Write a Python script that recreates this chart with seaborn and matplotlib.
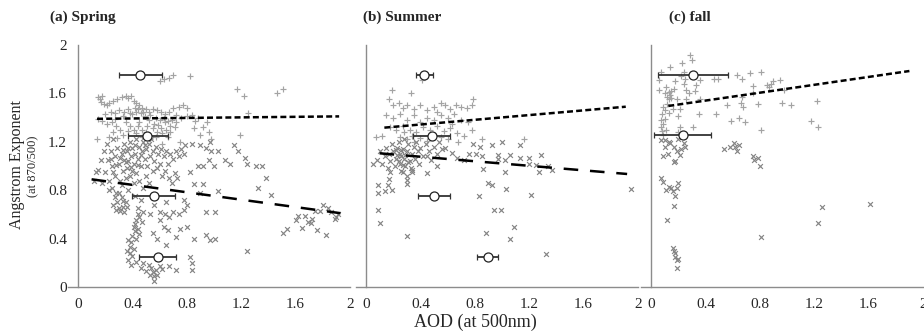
import matplotlib
matplotlib.use("Agg")
import matplotlib.pyplot as plt
import seaborn as sns
import pandas as pd
import numpy as np
from matplotlib.ticker import MultipleLocator

# ---------------- data ----------------
panel_titles = ["(a) Spring", "(b) Summer", "(c) fall"]
x_ticks = [0, 0.4, 0.8, 1.2, 1.6, 2]
x_tick_labels = ["0", "0.4", "0.8", "1.2", "1.6", "2"]
y_ticks = [0, 0.4, 0.8, 1.2, 1.6, 2]
y_tick_labels = ["0", "0.4", "0.8", "1.2", "1.6", "2"]

spring_plus = [
    (0.60, 1.70), (0.63, 1.72), (0.67, 1.73), (0.70, 1.75), (0.82, 1.74), (1.17, 1.64), (1.22, 1.58),
    (1.46, 1.60), (1.51, 1.64), (1.25, 1.44), (1.19, 1.26), (0.98, 1.22), (0.92, 1.32), (0.95, 1.36),
    (0.15, 1.57), (0.16, 1.55), (0.17, 1.53), (0.18, 1.58), (0.19, 1.51), (0.21, 1.50), (0.23, 1.52),
    (0.26, 1.54), (0.29, 1.55), (0.32, 1.57), (0.35, 1.58), (0.37, 1.56), (0.39, 1.58), (0.41, 1.54),
    (0.43, 1.52), (0.45, 1.50), (0.47, 1.48), (0.50, 1.47), (0.52, 1.45), (0.55, 1.47), (0.58, 1.46),
    (0.61, 1.45), (0.64, 1.43), (0.67, 1.45), (0.70, 1.48), (0.74, 1.49), (0.77, 1.50), (0.80, 1.48),
    (0.84, 1.42), (0.88, 1.40), (0.30, 1.46), (0.27, 1.44), (0.24, 1.45), (0.34, 1.45), (0.37, 1.47),
    (0.40, 1.43), (0.43, 1.45), (0.46, 1.44), (0.49, 1.41), (0.53, 1.42), (0.57, 1.40), (0.60, 1.38),
    (0.63, 1.40), (0.66, 1.37), (0.69, 1.38), (0.72, 1.36), (0.76, 1.40), (0.80, 1.41), (0.86, 1.37),
    (0.18, 1.37), (0.15, 1.39), (0.21, 1.35), (0.25, 1.36), (0.28, 1.33), (0.31, 1.30), (0.35, 1.36),
    (0.38, 1.33), (0.41, 1.30), (0.44, 1.33), (0.47, 1.30), (0.51, 1.33), (0.55, 1.31), (0.58, 1.28),
    (0.62, 1.27), (0.65, 1.30), (0.68, 1.28), (0.71, 1.32), (0.26, 1.28), (0.23, 1.24), (0.29, 1.23),
    (0.33, 1.26), (0.14, 1.22), (0.47, 1.24), (0.53, 1.22), (0.57, 1.24), (0.66, 1.24), (0.75, 1.20),
    (0.62, 1.18), (0.90, 1.26), (0.96, 1.28), (0.85, 1.31),
    (0.44, 1.47), (0.48, 1.45), (0.42, 1.48), (0.38, 1.44), (0.33, 1.41), (0.45, 1.36), (0.52, 1.38),
    (0.59, 1.34), (0.64, 1.36), (0.50, 1.28), (0.43, 1.27), (0.37, 1.29), (0.27, 1.39), (0.20, 1.43),
    (0.56, 1.35), (0.61, 1.31), (0.72, 1.42), (0.68, 1.33),
]

spring_cross = [
    (0.12, 0.88), (0.13, 0.95), (0.15, 0.97), (0.17, 1.05), (0.18, 0.86), (0.19, 1.12), (0.20, 0.95),
    (0.21, 1.18), (0.22, 1.05), (0.23, 0.88), (0.24, 1.12), (0.25, 1.00), (0.25, 0.82), (0.26, 1.22),
    (0.27, 1.08), (0.27, 0.92), (0.28, 0.78), (0.29, 1.15), (0.29, 0.70), (0.30, 1.02), (0.30, 0.65),
    (0.31, 0.88), (0.32, 1.10), (0.32, 0.74), (0.33, 0.96), (0.33, 0.66), (0.34, 1.05), (0.34, 1.18),
    (0.35, 0.90), (0.35, 0.70), (0.36, 1.12), (0.36, 0.98), (0.37, 1.04), (0.37, 0.80), (0.38, 1.20),
    (0.38, 0.92), (0.39, 1.08), (0.40, 1.15), (0.40, 0.96), (0.41, 1.02), (0.41, 0.86), (0.42, 1.10),
    (0.42, 0.75), (0.43, 1.22), (0.43, 0.94), (0.44, 1.06), (0.44, 0.65), (0.45, 1.16), (0.45, 0.88),
    (0.46, 1.00), (0.46, 0.72), (0.47, 1.12), (0.48, 1.20), (0.48, 0.82), (0.49, 1.06), (0.50, 1.14),
    (0.50, 0.92), (0.51, 1.00), (0.52, 1.18), (0.52, 0.86), (0.53, 1.08), (0.54, 1.22), (0.55, 0.96),
    (0.55, 1.12), (0.56, 1.04), (0.57, 1.16), (0.58, 0.98), (0.59, 1.10), (0.60, 1.02), (0.61, 1.14),
    (0.62, 0.92), (0.63, 1.08), (0.64, 0.96), (0.65, 1.12), (0.66, 1.02), (0.67, 0.90), (0.68, 1.10),
    (0.69, 0.86), (0.70, 1.06), (0.71, 0.94), (0.72, 1.12), (0.73, 0.90), (0.74, 1.08), (0.76, 1.14),
    (0.78, 1.10), (0.79, 1.17), (0.23, 0.80), (0.26, 0.68), (0.31, 0.63), (0.34, 0.62), (0.28, 0.64),
    (0.31, 1.07), (0.33, 1.13), (0.35, 1.03), (0.37, 1.15), (0.39, 0.99), (0.42, 1.17), (0.44, 1.01),
    (0.46, 1.09), (0.49, 1.17), (0.28, 1.01), (0.26, 0.95), (0.24, 1.06), (0.32, 0.84), (0.30, 0.78),
    (0.27, 0.74), (0.33, 0.71), (0.36, 0.66),
    (0.44, 0.60), (0.43, 0.55), (0.41, 0.50), (0.42, 0.46), (0.44, 0.48), (0.40, 0.42), (0.45, 0.44),
    (0.39, 0.37), (0.37, 0.39), (0.36, 0.30), (0.38, 0.28), (0.40, 0.26), (0.37, 0.22), (0.39, 0.18),
    (0.43, 0.21), (0.41, 0.31), (0.46, 0.16), (0.48, 0.20), (0.50, 0.13), (0.52, 0.18), (0.53, 0.10),
    (0.55, 0.12), (0.56, 0.05), (0.57, 0.14), (0.58, 0.10), (0.60, 0.17), (0.62, 0.15), (0.54, 0.16),
    (0.47, 0.54), (0.45, 0.58), (0.48, 0.62), (0.42, 0.52), (0.43, 0.40), (0.38, 0.33), (0.56, 0.09),
    (0.53, 0.60), (0.56, 0.68), (0.60, 0.62), (0.64, 0.60), (0.67, 0.58), (0.70, 0.62), (0.74, 0.60),
    (0.78, 0.64), (0.80, 0.68), (0.78, 0.72), (0.65, 0.70), (0.60, 0.55), (0.63, 0.50), (0.66, 0.47),
    (0.72, 0.41), (0.65, 0.35), (0.75, 0.48), (0.80, 0.50), (0.82, 0.25), (0.84, 0.20), (0.84, 0.14),
    (0.72, 0.14), (0.67, 0.17), (0.58, 0.40), (0.55, 0.45), (0.85, 0.40), (0.94, 0.43), (0.97, 0.39),
    (1.01, 0.40), (0.94, 0.62), (1.01, 0.62), (0.90, 0.78), (0.92, 0.85), (0.85, 0.85), (0.82, 0.95),
    (0.88, 1.00), (0.92, 1.00), (0.96, 1.05), (0.98, 1.12), (1.03, 1.12), (1.08, 1.05), (1.12, 1.02),
    (1.00, 1.00), (0.84, 1.18), (0.90, 1.17), (0.94, 1.15), (0.97, 1.20), (1.15, 1.17), (1.18, 1.12),
    (1.23, 1.07), (1.24, 1.02), (1.31, 1.00), (1.35, 1.00), (1.38, 0.90), (1.42, 0.76), (1.32, 0.82),
    (1.24, 0.30), (1.03, 0.79),
    (1.51, 0.45), (1.54, 0.48), (1.60, 0.55), (1.62, 0.59), (1.65, 0.49), (1.67, 0.59), (1.69, 0.54),
    (1.71, 0.53), (1.72, 0.56), (1.74, 0.63), (1.76, 0.47), (1.80, 0.68), (1.82, 0.43), (1.84, 0.65),
    (1.86, 0.62), (1.89, 0.56), (1.90, 0.58), (1.91, 0.60), (1.78, 0.63),
]

summer_plus = [
    (0.41, 1.71), (0.19, 1.63), (0.33, 1.60), (0.17, 1.55), (0.20, 1.50), (0.24, 1.52), (0.27, 1.48),
    (0.30, 1.50), (0.35, 1.47), (0.40, 1.50), (0.45, 1.46), (0.50, 1.49), (0.55, 1.52), (0.58, 1.50),
    (0.62, 1.47), (0.66, 1.50), (0.70, 1.49), (0.74, 1.48), (0.79, 1.55), (0.78, 1.50), (0.15, 1.42),
    (0.20, 1.40), (0.25, 1.43), (0.30, 1.38), (0.35, 1.42), (0.40, 1.36), (0.45, 1.40), (0.50, 1.38),
    (0.55, 1.42), (0.60, 1.40), (0.65, 1.43), (0.70, 1.38), (0.75, 1.36), (0.18, 1.32), (0.22, 1.30),
    (0.27, 1.33), (0.32, 1.30), (0.37, 1.28), (0.42, 1.32), (0.47, 1.30), (0.52, 1.33), (0.57, 1.29),
    (0.62, 1.31), (0.67, 1.27), (0.72, 1.25), (0.78, 1.30), (0.07, 1.24), (0.12, 1.25), (0.25, 1.24),
    (0.30, 1.22), (0.35, 1.20), (0.40, 1.23), (0.45, 1.21), (0.55, 1.24), (0.60, 1.22), (0.68, 1.20),
    (0.85, 1.22), (1.16, 1.22), (0.28, 1.28), (0.34, 1.25), (0.48, 1.26), (0.63, 1.35), (0.52, 1.45),
]

summer_cross = [
    (0.08, 1.05), (0.10, 1.12), (0.12, 1.02), (0.14, 1.08), (0.15, 1.15), (0.16, 0.98), (0.17, 1.10),
    (0.18, 1.04), (0.19, 1.18), (0.20, 1.12), (0.21, 1.00), (0.22, 1.06), (0.23, 1.15), (0.24, 1.20),
    (0.25, 1.02), (0.25, 1.10), (0.26, 0.96), (0.27, 1.14), (0.28, 1.06), (0.28, 1.22), (0.29, 1.00),
    (0.30, 1.12), (0.31, 1.18), (0.32, 1.04), (0.33, 0.98), (0.34, 1.10), (0.35, 1.16), (0.36, 1.06),
    (0.37, 1.20), (0.38, 1.12), (0.39, 1.02), (0.40, 1.15), (0.42, 1.08), (0.44, 1.18), (0.46, 1.12),
    (0.48, 1.05), (0.50, 1.16), (0.52, 1.10), (0.54, 1.20), (0.56, 1.14), (0.26, 1.08), (0.22, 1.13),
    (0.18, 0.95), (0.30, 0.92), (0.34, 0.95), (0.27, 0.95), (0.24, 1.04), (0.27, 1.01), (0.29, 1.09),
    (0.31, 1.03), (0.23, 1.09), (0.26, 1.13),
    (0.05, 1.02), (0.09, 0.84), (0.09, 0.78), (0.09, 0.64), (0.10, 0.53), (0.30, 0.42), (0.30, 0.885),
    (0.30, 0.85), (0.34, 0.97), (0.45, 0.94), (0.52, 1.00), (0.45, 1.08), (0.83, 0.75), (0.90, 0.86),
    (0.93, 0.84), (0.94, 0.64), (0.99, 0.64), (0.88, 0.45), (1.06, 0.40), (1.09, 0.50), (1.21, 0.76),
    (1.32, 0.27), (1.95, 0.81), (1.03, 0.81), (0.86, 0.975), (1.00, 1.20), (1.06, 1.09), (1.13, 1.07),
    (1.13, 1.17), (1.20, 1.07), (1.20, 1.02), (1.25, 1.01), (1.27, 0.95), (1.29, 1.09), (1.34, 1.00),
    (1.37, 0.97), (1.02, 0.95), (1.02, 1.05), (0.97, 1.09), (0.93, 1.17), (0.84, 1.16), (0.79, 1.18),
    (0.76, 1.10), (0.72, 1.05), (0.67, 1.07), (0.63, 1.11), (0.58, 1.15), (0.81, 1.10), (0.85, 1.08),
    (0.97, 1.06), (0.17, 0.89), (0.16, 0.84), (0.19, 0.80), (0.14, 0.79),
]

fall_plus = [
    (0.29, 1.92), (0.23, 1.85), (0.30, 1.88), (0.24, 1.78), (0.14, 1.82), (0.07, 1.78), (0.06, 1.71),
    (0.33, 1.67), (0.36, 1.71), (0.46, 1.72), (0.49, 1.72), (0.63, 1.75), (0.67, 1.72), (0.73, 1.77),
    (0.81, 1.78), (0.90, 1.70), (0.95, 1.71), (0.85, 1.67), (0.87, 1.65), (0.98, 1.63), (0.96, 1.52),
    (1.03, 1.50), (0.75, 1.66), (0.75, 1.60), (0.67, 1.57), (0.66, 1.52), (0.68, 1.49), (0.56, 1.50),
    (0.79, 1.51), (0.48, 1.43), (0.59, 1.37), (0.65, 1.40), (0.69, 1.36), (0.81, 1.30), (1.18, 1.37),
    (1.22, 1.54), (1.23, 1.32), (0.31, 1.32), (0.35, 1.43), (0.21, 1.47), (0.26, 1.55), (0.36, 1.55),
    (0.10, 1.60), (0.12, 1.57), (0.13, 1.55), (0.14, 1.59), (0.09, 1.49), (0.08, 1.43), (0.07, 1.38),
    (0.07, 1.32), (0.09, 1.35), (0.10, 1.39), (0.13, 1.44), (0.06, 1.63), (0.17, 1.64), (0.19, 1.55),
    (0.20, 1.41), (0.21, 1.32), (0.20, 1.28), (0.24, 1.68), (0.26, 1.63), (0.11, 1.65), (0.15, 1.62),
    (0.12, 1.51), (0.16, 1.47), (0.09, 1.26), (0.11, 1.30), (0.18, 1.70), (0.22, 1.74), (0.28, 1.60),
    (0.13, 1.61), (0.15, 1.56), (0.10, 1.46), (0.08, 1.29), (0.25, 1.72), (0.32, 1.62), (0.88, 1.68),
]

fall_cross = [
    (0.07, 1.215), (0.10, 1.215), (0.105, 1.16), (0.125, 1.10), (0.09, 1.08), (0.13, 1.20), (0.14, 1.19),
    (0.17, 1.16), (0.19, 1.12), (0.18, 1.04), (0.17, 1.03), (0.20, 1.22), (0.24, 1.19), (0.25, 1.16),
    (0.23, 1.24), (0.22, 1.14), (0.21, 1.09), (0.07, 0.90), (0.09, 0.87), (0.11, 0.80), (0.13, 0.83),
    (0.15, 0.82), (0.16, 0.79), (0.19, 0.82), (0.20, 0.86), (0.18, 0.75), (0.17, 0.67), (0.12, 0.55),
    (0.16, 0.32), (0.17, 0.30), (0.18, 0.25), (0.19, 0.22), (0.20, 0.23), (0.19, 0.16), (0.18, 0.28),
    (0.54, 1.14), (0.58, 1.16), (0.61, 1.19), (0.62, 1.16), (0.65, 1.17), (0.63, 1.12), (0.75, 1.08),
    (0.76, 1.05), (0.79, 1.07), (0.80, 1.00), (0.81, 0.41), (1.23, 0.53), (1.26, 0.66), (1.61, 0.69),
]

# regression lines (end points)
fit_plus_x = {"spring": [0.14, 1.92], "summer": [0.135, 1.91], "fall": [0.127, 1.90]}
fit_plus_y = {"spring": [1.39, 1.41], "summer": [1.317, 1.49], "fall": [1.496, 1.785]}
fit_cross_x = {"spring": [0.10, 1.93], "summer": [0.10, 1.92]}
fit_cross_y = {"spring": [0.89, 0.61], "summer": [1.105, 0.934]}

# circles with horizontal error bars
circ_x = {"spring": [0.458, 0.51, 0.56, 0.586], "summer": [0.43, 0.483, 0.50, 0.895], "fall": [0.311, 0.233]}
circ_y = {"spring": [1.75, 1.25, 0.75, 0.25], "summer": [1.75, 1.25, 0.75, 0.25], "fall": [1.75, 1.26]}
circ_lo = {"spring": [0.30, 0.365, 0.40, 0.45], "summer": [0.365, 0.343, 0.385, 0.816], "fall": [0.051, 0.02]}
circ_hi = {"spring": [0.617, 0.66, 0.71, 0.72], "summer": [0.495, 0.618, 0.62, 0.973], "fall": [0.569, 0.444]}

seasons = ["spring", "summer", "fall"]
plus_sets = {"spring": spring_plus, "summer": summer_plus, "fall": fall_plus}
cross_sets = {"spring": spring_cross, "summer": summer_cross, "fall": fall_cross}

# ---------------- drawing ----------------
sns.set_style("white")
plt.rcParams["font.family"] = ["Liberation Serif", "DejaVu Serif"]
plt.rcParams["lines.scale_dashes"] = False

W, H = 924, 334
fig = plt.figure(figsize=(W / 100, H / 100), dpi=100)

px_per_unit = 136.0
x_lo = -0.07
axes_left_px = [78, 366, 651]
ax_bottom_px = 287
ax_top_px = 45

plus_color = "#a3a3a3"
cross_color = "#858585"
spine_color = "#8c8c8c"

for i, season in enumerate(seasons):
    left = axes_left_px[i] + x_lo * px_per_unit
    width = (2.0 - x_lo) * px_per_unit
    ax = fig.add_axes([left / W, (H - ax_bottom_px) / H, width / W, (ax_bottom_px - ax_top_px) / H])

    pdf = pd.DataFrame(plus_sets[season], columns=["aod", "ae"])
    cdf = pd.DataFrame(cross_sets[season], columns=["aod", "ae"])
    sns.scatterplot(data=pdf, x="aod", y="ae", ax=ax, marker="+", color=plus_color,
                    s=20, linewidth=0.85, zorder=2)
    sns.scatterplot(data=cdf, x="aod", y="ae", ax=ax, marker="x", color=cross_color,
                    s=12, linewidth=0.85, zorder=2)

    ax.plot(fit_plus_x[season], fit_plus_y[season], color="black", lw=1.8,
            dashes=(4.3, 2.3), zorder=4)
    if season in fit_cross_x:
        ax.plot(fit_cross_x[season], fit_cross_y[season], color="black", lw=1.8,
                dashes=(10.5, 8.5), zorder=4)

    cx = np.array(circ_x[season])
    xerr = [cx - np.array(circ_lo[season]), np.array(circ_hi[season]) - cx]
    ax.errorbar(cx, circ_y[season], xerr=xerr, fmt="o", mfc="white", mec="#222222",
                ms=6.5, mew=0.9, ecolor="#333333", elinewidth=1.3, capsize=2.5, capthick=1.3,
                zorder=5)

    ax.set_xlim(x_lo, 2.0)
    ax.set_ylim(0, 2.0)
    ax.spines["left"].set_position(("data", 0))
    for s in ["top", "right"]:
        ax.spines[s].set_visible(False)
    for s in ["left", "bottom"]:
        ax.spines[s].set_color(spine_color)
        ax.spines[s].set_linewidth(1.0)

    ax.set_xticks(x_ticks)
    ax.set_xticklabels(x_tick_labels)
    ax.xaxis.set_minor_locator(MultipleLocator(0.2))
    ax.set_yticks(y_ticks)
    ax.yaxis.set_minor_locator(MultipleLocator(0.2))
    if i == 0:
        ax.set_yticklabels(y_tick_labels)
    else:
        ax.set_yticklabels([])
    ax.tick_params(axis="both", which="both", direction="out", length=5, width=0.9,
                   color=spine_color, labelsize=11, pad=3)
    ax.set_xlabel("")
    ax.set_ylabel("")
    ax.patch.set_alpha(0)

title_x_px = [50, 363, 669]
for i, t in enumerate(panel_titles):
    fig.text(title_x_px[i] / W, 1 - 17 / H, t, fontsize=11, fontweight="bold",
             ha="left", va="center")

fig.text(17 / W, 1 - 165 / H, "Angstrom Exponent", rotation=90, fontsize=11.5,
         ha="center", va="center")
fig.text(33 / W, 1 - 166 / H, "(at 870/500)", rotation=90, fontsize=9,
         ha="center", va="center")
fig.text(475 / W, 1 - 322 / H, "AOD (at 500nm)", fontsize=13, ha="center", va="center")

fig.savefig("out.png", dpi=100)
